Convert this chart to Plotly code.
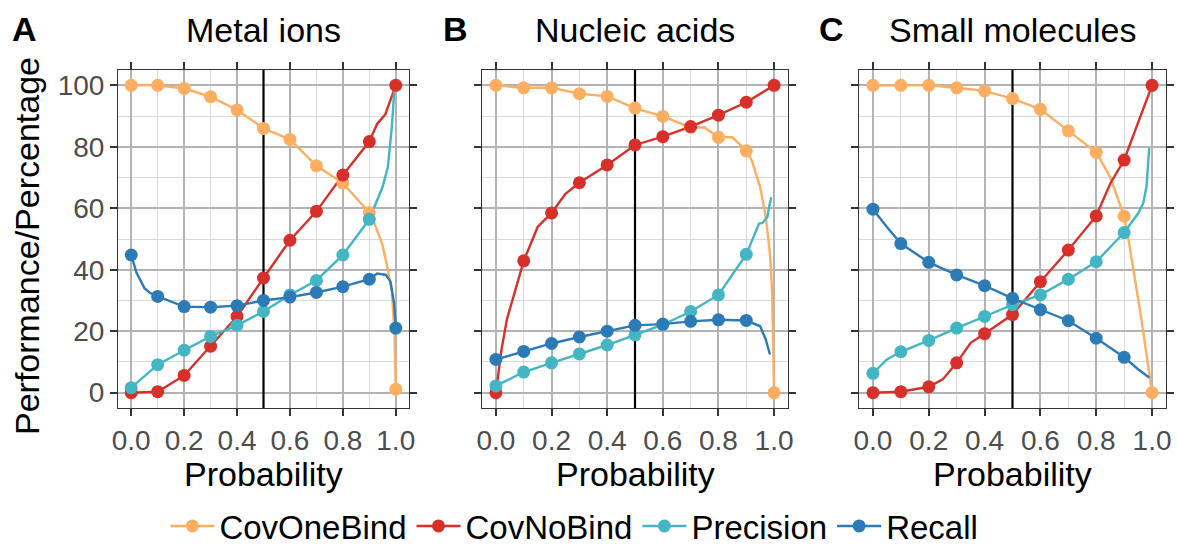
import plotly.graph_objects as go

W, H = 1177, 546

# ---------------- data ----------------
MARKER_PROBS = [0.0, 0.1, 0.2, 0.3, 0.4, 0.5, 0.6, 0.7, 0.8, 0.9, 1.0]
SERIES = ["CovOneBind", "CovNoBind", "Precision", "Recall"]
COLORS = ["#FDAE61", "#D7302A", "#43B5C3", "#2C7BB6"]
PANEL_TITLES = ["Metal ions", "Nucleic acids", "Small molecules"]
PANEL_TAGS = ["A", "B", "C"]
THRESHOLD = 0.5
X_RANGE = [-0.05, 1.05]
Y_RANGE = [-5, 105]
X_TICKS = [0.0, 0.2, 0.4, 0.6, 0.8, 1.0]
Y_TICKS = [0, 20, 40, 60, 80, 100]

# Metal ions
metal_covone_x = [0, 0.1, 0.2, 0.3, 0.4, 0.5, 0.6, 0.7, 0.8, 0.9, 0.92, 0.95, 0.97, 0.985, 0.995, 1.0]
metal_covone_y = [100, 100, 99, 96.3, 92, 86, 82.4, 73.8, 68.2, 58.6, 55, 48, 40, 33, 20, 1.1]
metal_covno_x = [0, 0.1, 0.2, 0.3, 0.4, 0.5, 0.6, 0.7, 0.8, 0.9, 0.93, 0.96, 1.0]
metal_covno_y = [0, 0.3, 5.6, 15.1, 24.8, 37.3, 49.6, 59, 70.8, 81.7, 87.5, 90.5, 100]
metal_prec_x = [0, 0.1, 0.2, 0.3, 0.4, 0.5, 0.6, 0.7, 0.8, 0.9, 0.95, 0.97, 0.985, 0.995]
metal_prec_y = [1.6, 9.1, 13.8, 18.3, 21.9, 26.4, 31.8, 36.5, 44.8, 56.4, 66.9, 73.4, 86.3, 99]
metal_rec_x = [0, 0.02, 0.05, 0.07, 0.1, 0.2, 0.3, 0.4, 0.5, 0.6, 0.7, 0.8, 0.9, 0.93, 0.963, 0.98, 0.994, 1.0]
metal_rec_y = [44.8, 39, 34, 32.5, 31.3, 28, 27.8, 28.3, 30, 31.1, 32.6, 34.5, 36.9, 38.8, 38.3, 36.1, 29, 21]

# Nucleic acids
nucl_covone_x = [0, 0.1, 0.2, 0.3, 0.4, 0.5, 0.55, 0.6, 0.7, 0.75, 0.8, 0.85, 0.9, 0.92, 0.95, 0.97, 0.985, 0.993, 1.0]
nucl_covone_y = [100, 99.2, 99.2, 97.3, 96.4, 92.6, 91.2, 89.9, 86.3, 86.3, 83.1, 83.1, 78.7, 75.5, 66.9, 57.2, 45.3, 32.4, 0]
nucl_covno_x = [0, 0.01, 0.02, 0.04, 0.08, 0.1, 0.15, 0.2, 0.25, 0.3, 0.4, 0.5, 0.6, 0.7, 0.8, 0.9, 1.0]
nucl_covno_y = [0, 8, 14, 24, 37, 42.9, 53.9, 58.5, 64.7, 68.3, 74.1, 80.6, 83.3, 86.6, 90.3, 94.5, 100]
nucl_prec_x = [0, 0.1, 0.2, 0.3, 0.4, 0.5, 0.6, 0.7, 0.8, 0.9, 0.946, 0.958, 0.976, 0.982, 0.99]
nucl_prec_y = [2.2, 6.7, 9.7, 12.6, 15.5, 18.8, 22.1, 26.4, 31.8, 45, 55, 55.2, 57.2, 60.4, 63.6]
nucl_rec_x = [0, 0.1, 0.2, 0.3, 0.4, 0.5, 0.6, 0.7, 0.8, 0.9, 0.95, 0.97, 0.985]
nucl_rec_y = [10.8, 13.4, 16, 18.1, 20, 21.9, 22.3, 23.2, 23.7, 23.5, 21.6, 17.3, 12.4]

# Small molecules
small_covone_x = [0, 0.1, 0.2, 0.3, 0.4, 0.5, 0.6, 0.7, 0.8, 0.85, 0.9, 0.914, 0.96, 1.0]
small_covone_y = [100, 100, 100, 99.2, 98.2, 95.7, 92.2, 85.2, 78.2, 70.1, 57.4, 50.7, 25, 0]
small_covno_x = [0, 0.1, 0.2, 0.25, 0.3, 0.35, 0.4, 0.5, 0.6, 0.7, 0.8, 0.85, 0.9, 1.0]
small_covno_y = [0, 0.3, 1.9, 4.3, 9.7, 16.2, 19.2, 25.4, 36.1, 46.4, 57.5, 68, 75.7, 100]
small_prec_x = [0, 0.05, 0.1, 0.2, 0.3, 0.4, 0.5, 0.6, 0.7, 0.8, 0.9, 0.95, 0.968, 0.98, 0.99]
small_prec_y = [6.3, 10.8, 13.3, 17, 21, 24.8, 28.6, 31.8, 36.9, 42.6, 52.1, 58.3, 61.5, 67, 79.6]
small_rec_x = [0, 0.05, 0.1, 0.2, 0.3, 0.4, 0.5, 0.6, 0.7, 0.8, 0.9, 0.95, 0.99]
small_rec_y = [59.7, 53.9, 48.5, 42.4, 38.3, 34.8, 30.7, 27, 23.4, 17.7, 11.5, 7.6, 4.9]

PANELS = [
    [(metal_covone_x, metal_covone_y), (metal_covno_x, metal_covno_y),
     (metal_prec_x, metal_prec_y), (metal_rec_x, metal_rec_y)],
    [(nucl_covone_x, nucl_covone_y), (nucl_covno_x, nucl_covno_y),
     (nucl_prec_x, nucl_prec_y), (nucl_rec_x, nucl_rec_y)],
    [(small_covone_x, small_covone_y), (small_covno_x, small_covno_y),
     (small_prec_x, small_prec_y), (small_rec_x, small_rec_y)],
]

# ---------------- layout geometry (pixels) ----------------
PANEL_X = [(118, 409), (482, 788), (859, 1166)]
PANEL_Y = (70, 408)  # top, bottom
FONT = "Liberation Sans, Arial, Helvetica, sans-serif"
TEXT_SIZE = 34

def px_x(p):
    return p / W

def px_y(p):
    return 1 - p / H

fig = go.Figure()

for pi, panel in enumerate(PANELS):
    sfx = "" if pi == 0 else str(pi + 1)
    # threshold reference line (drawn beneath the data, above the grid)
    fig.add_trace(go.Scatter(
        x=[THRESHOLD, THRESHOLD], y=Y_RANGE, mode="lines",
        line=dict(color="black", width=2.2),
        xaxis="x" + sfx, yaxis="y" + sfx,
        showlegend=False, hoverinfo="skip",
    ))
    for si, (xs, ys) in enumerate(panel):
        fig.add_trace(go.Scatter(
            x=xs, y=ys, mode="lines",
            line=dict(color=COLORS[si], width=2.4),
            xaxis="x" + sfx, yaxis="y" + sfx,
            showlegend=False, hoverinfo="skip",
        ))
    for si, (xs, ys) in enumerate(panel):
        mx = [x for x in xs if any(abs(x - m) < 1e-9 for m in MARKER_PROBS)]
        my = [y for x, y in zip(xs, ys) if any(abs(x - m) < 1e-9 for m in MARKER_PROBS)]
        fig.add_trace(go.Scatter(
            x=mx, y=my, mode="markers",
            marker=dict(color=COLORS[si], size=13, line=dict(width=0)),
            xaxis="x" + sfx, yaxis="y" + sfx,
            showlegend=False, hoverinfo="skip",
        ))

# legend-only traces
for si, name in enumerate(SERIES):
    fig.add_trace(go.Scatter(
        x=[None], y=[None], mode="lines+markers", name=name,
        line=dict(color=COLORS[si], width=2.4),
        marker=dict(color=COLORS[si], size=13),
        showlegend=True,
    ))

axis_common = dict(
    showline=True, linecolor="#333333", linewidth=1, mirror="ticks",
    ticks="outside", ticklen=7, tickwidth=1.5, tickcolor="#333333",
    showgrid=True, gridcolor="#B3B3B3", gridwidth=2,
    zeroline=False, automargin=False,
    tickfont=dict(family=FONT, size=28, color="#4D4D4D"),
)

layout = dict(
    width=W, height=H,
    margin=dict(l=0, r=0, t=0, b=0, autoexpand=False),
    paper_bgcolor="white", plot_bgcolor="white",
    font=dict(family=FONT, color="black"),
    showlegend=True,
    legend=dict(orientation="h", x=0.488, xanchor="center", y=px_y(526), yanchor="middle",
                font=dict(family=FONT, size=33, color="black"),
                itemwidth=44),
    annotations=[],
)

for pi in range(3):
    sfx = "" if pi == 0 else str(pi + 1)
    x0, x1 = PANEL_X[pi]
    layout["xaxis" + sfx] = dict(
        axis_common,
        domain=[px_x(x0), px_x(x1)],
        range=X_RANGE,
        tickvals=X_TICKS, ticktext=["%.1f" % v for v in X_TICKS],
        minor=dict(dtick=0.1, tick0=0, showgrid=True, gridcolor="#D9D9D9", gridwidth=1, ticks=""),
        anchor="y" + sfx,
    )
    layout["yaxis" + sfx] = dict(
        axis_common,
        domain=[px_y(PANEL_Y[1]), px_y(PANEL_Y[0])],
        range=Y_RANGE,
        tickvals=Y_TICKS,
        showticklabels=(pi == 0),
        minor=dict(dtick=10, tick0=0, showgrid=True, gridcolor="#D9D9D9", gridwidth=1, ticks=""),
        anchor="x" + sfx,
    )
    cx = (x0 + x1) / 2
    layout["annotations"].append(dict(
        text=PANEL_TITLES[pi], x=px_x(cx), y=px_y(30), xref="paper", yref="paper",
        xanchor="center", yanchor="middle", showarrow=False,
        font=dict(family=FONT, size=TEXT_SIZE, color="black"),
    ))
    layout["annotations"].append(dict(
        text="Probability", x=px_x(cx), y=px_y(474), xref="paper", yref="paper",
        xanchor="center", yanchor="middle", showarrow=False,
        font=dict(family=FONT, size=TEXT_SIZE, color="black"),
    ))

TAG_X = [24, 456, 831]
for pi, tag in enumerate(PANEL_TAGS):
    layout["annotations"].append(dict(
        text="<b>%s</b>" % tag, x=px_x(TAG_X[pi]), y=px_y(29), xref="paper", yref="paper",
        xanchor="center", yanchor="middle", showarrow=False,
        font=dict(family=FONT, size=TEXT_SIZE, color="black"),
    ))

layout["annotations"].append(dict(
    text="Performance/Percentage", x=px_x(27), y=px_y(246), xref="paper", yref="paper",
    xanchor="center", yanchor="middle", showarrow=False, textangle=-90,
    font=dict(family=FONT, size=TEXT_SIZE, color="black"),
))

fig.update_layout(**layout)
fig.write_html("out.html")
